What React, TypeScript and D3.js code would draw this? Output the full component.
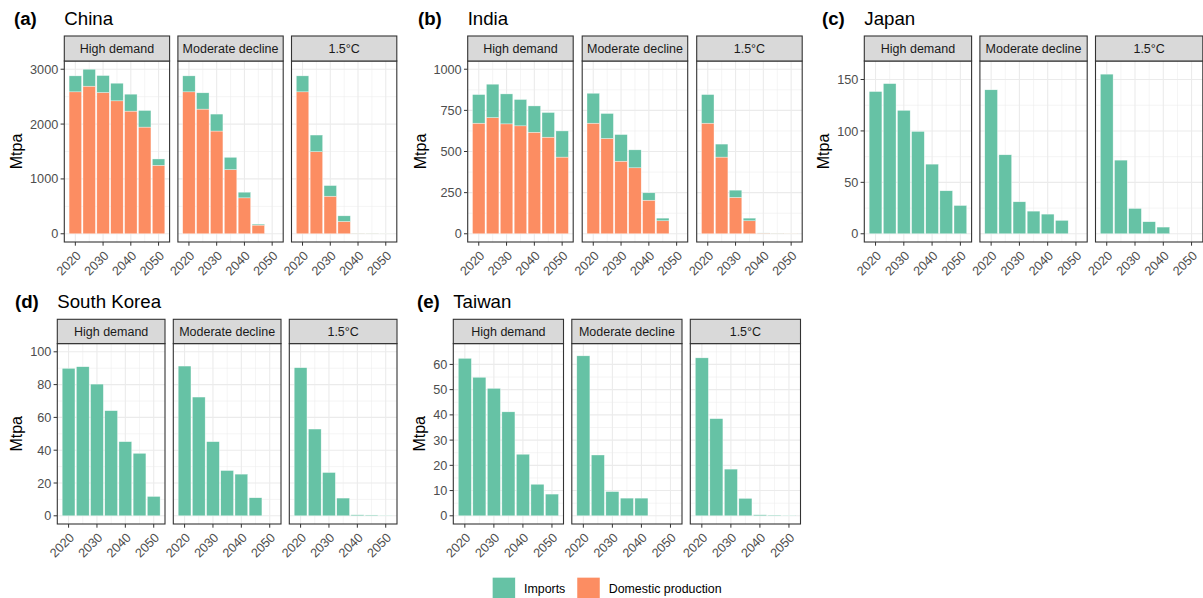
import * as d3 from "d3"

const years = [2020, 2025, 2030, 2035, 2040, 2045, 2050]
const scenarios = ["High demand", "Moderate decline", "1.5°C"]
const xTicks = [2020, 2030, 2040, 2050]
const seriesNames = ["Imports", "Domestic production"]

// rows: High demand, Moderate decline, 1.5°C
const chinaDomestic = [
  [2588, 2691, 2576, 2424, 2236, 1945, 1248],
  [2588, 2273, 1873, 1170, 655, 158, 0],
  [2588, 1497, 685, 224, 9, 7, 4],
]
const chinaImports = [
  [291, 309, 309, 321, 309, 303, 116],
  [291, 297, 309, 224, 103, 18, 0],
  [291, 303, 194, 103, 3, 3, 2],
]
const chinaTicks = [0, 1000, 2000, 3000]

const indiaDomestic = [
  [672, 706, 668, 656, 617, 587, 466],
  [672, 579, 441, 401, 204, 79, 0],
  [672, 466, 221, 79, 4, 3, 2.5],
]
const indiaImports = [
  [174, 203, 182, 160, 160, 150, 159],
  [182, 152, 162, 109, 45, 16, 0],
  [174, 79, 44, 16, 1, 1, 0.5],
]
const indiaTicks = [0, 250, 500, 750, 1000]

const japanImports = [
  [138.3, 146, 120, 99.5, 67.7, 41.8, 27.5],
  [140, 76.8, 31.1, 22, 19.1, 13, 0],
  [155.2, 71.6, 24.6, 11.7, 6.5, 0, 0],
]
const japanTicks = [0, 50, 100, 150]

const koreaImports = [
  [89.9, 90.9, 80.3, 64.1, 45.2, 38.1, 11.8],
  [91.3, 72.4, 45.2, 27.6, 25.4, 11.0, 0],
  [90.3, 52.9, 26.4, 10.8, 0.6, 0.5, 0.3],
]
const koreaTicks = [0, 20, 40, 60, 80, 100]

const taiwanImports = [
  [62.4, 54.9, 50.5, 41.2, 24.4, 12.5, 8.6],
  [63.4, 24.1, 9.6, 7.0, 7.0, 0, 0],
  [62.6, 38.5, 18.5, 6.9, 0.4, 0.3, 0.2],
]
const taiwanTicks = [0, 10, 20, 30, 40, 50, 60]

const zeros = [[0, 0, 0, 0, 0, 0, 0], [0, 0, 0, 0, 0, 0, 0], [0, 0, 0, 0, 0, 0, 0]]

const COLORS = { imports: "#66C2A5", domestic: "#FC8D62" }
const FONT = "'Liberation Sans', Arial, Helvetica, sans-serif"

const rows = [
  { stripTop: 36, stripBottom: 61, bottom: 242, titleY: 25 },
  { stripTop: 319.3, stripBottom: 343.6, bottom: 524, titleY: 307.5 },
]

const blocks = [
  { tag: "(a)", name: "China", row: 0, tagX: 14, ylabX: 16.7, left: 64.3, width: 105.3, gap: 8.3, yMax: 3000, ticks: chinaTicks, domestic: chinaDomestic, imports: chinaImports },
  { tag: "(b)", name: "India", row: 0, tagX: 418, ylabX: 420, left: 467.7, width: 105.5, gap: 9, yMax: 1000, ticks: indiaTicks, domestic: indiaDomestic, imports: indiaImports },
  { tag: "(c)", name: "Japan", row: 0, tagX: 822, ylabX: 823, left: 864.3, width: 107.3, gap: 8.3, yMax: 160, ticks: japanTicks, domestic: zeros, imports: japanImports },
  { tag: "(d)", name: "South Korea", row: 1, tagX: 15, ylabX: 16.7, left: 57.3, width: 107.7, gap: 8.3, yMax: 100, ticks: koreaTicks, domestic: zeros, imports: koreaImports },
  { tag: "(e)", name: "Taiwan", row: 1, tagX: 417, ylabX: 419, left: 453.3, width: 110.2, gap: 8.3, yMax: 65, ticks: taiwanTicks, domestic: zeros, imports: taiwanImports },
]

type BlockDef = (typeof blocks)[number]

const Block = ({ b }: { b: BlockDef }) => {
  const r = rows[b.row]
  const y = d3
    .scaleLinear()
    .domain([-0.05 * b.yMax, 1.05 * b.yMax])
    .range([r.bottom, r.stripBottom])
  const x = d3.scaleLinear().domain([2016.025, 2053.975]).range([0, b.width])

  const step = b.ticks[1] - b.ticks[0]
  const yMinor = b.ticks
    .map((t) => t - step / 2)
    .concat(b.ticks[b.ticks.length - 1] + step / 2)
    .filter((v) => v > y.domain()[0] && v < y.domain()[1])
  const xMinor = [2015, 2025, 2035, 2045, 2055].filter((v) => v > x.domain()[0] && v < x.domain()[1])
  const halfBar = 2.25

  return (
    <g>
      <text x={b.tagX} y={r.titleY} fontSize={18.67} fontWeight="bold" fill="#000">
        {b.tag}
      </text>
      <text x={b.left} y={r.titleY} fontSize={18.67} fill="#000">
        {b.name}
      </text>
      <text
        transform={`translate(${b.ylabX},${(r.stripBottom + r.bottom) / 2}) rotate(-90)`}
        textAnchor="middle"
        dy="0.35em"
        fontSize={16}
        fill="#000"
      >
        Mtpa
      </text>
      {/* y axis labels + ticks on first panel */}
      {b.ticks.map((t) => (
        <g key={t}>
          <line x1={b.left - 3.7} x2={b.left} y1={y(t)} y2={y(t)} stroke="#333333" strokeWidth={1} />
          <text x={b.left - 6} y={y(t)} dy="0.36em" textAnchor="end" fontSize={12.7} fill="#4D4D4D">
            {t}
          </text>
        </g>
      ))}
      {scenarios.map((s, si) => {
        const px = b.left + si * (b.width + b.gap)
        const dom = b.domestic[si]
        const imp = b.imports[si]
        return (
          <g key={s} transform={`translate(${px},0)`}>
            <rect x={0} y={r.stripBottom} width={b.width} height={r.bottom - r.stripBottom} fill="#fff" />
            {yMinor.map((v) => (
              <line key={"ym" + v} x1={0} x2={b.width} y1={y(v)} y2={y(v)} stroke="#EBEBEB" strokeWidth={0.55} />
            ))}
            {xMinor.map((v) => (
              <line key={"xm" + v} x1={x(v)} x2={x(v)} y1={r.stripBottom} y2={r.bottom} stroke="#EBEBEB" strokeWidth={0.55} />
            ))}
            {b.ticks.map((v) => (
              <line key={"yM" + v} x1={0} x2={b.width} y1={y(v)} y2={y(v)} stroke="#EBEBEB" strokeWidth={1.1} />
            ))}
            {xTicks.map((v) => (
              <line key={"xM" + v} x1={x(v)} x2={x(v)} y1={r.stripBottom} y2={r.bottom} stroke="#EBEBEB" strokeWidth={1.1} />
            ))}
            {years.map((yr, i) => {
              const x0 = x(yr - halfBar)
              const w = x(yr + halfBar) - x0
              return (
                <g key={yr}>
                  {dom[i] > 0 && (
                    <rect
                      x={x0}
                      y={y(dom[i])}
                      width={w}
                      height={y(0) - y(dom[i])}
                      fill={COLORS.domestic}
                      stroke="#fff"
                      strokeOpacity={0.7}
                      strokeWidth={0.5}
                    />
                  )}
                  {imp[i] > 0 && (
                    <rect
                      x={x0}
                      y={y(dom[i] + imp[i])}
                      width={w}
                      height={y(dom[i]) - y(dom[i] + imp[i])}
                      fill={COLORS.imports}
                      stroke="#fff"
                      strokeOpacity={0.7}
                      strokeWidth={0.5}
                    />
                  )}
                </g>
              )
            })}
            <rect
              x={0}
              y={r.stripBottom}
              width={b.width}
              height={r.bottom - r.stripBottom}
              fill="none"
              stroke="#333333"
              strokeWidth={1.1}
            />
            <rect
              x={0}
              y={r.stripTop}
              width={b.width}
              height={r.stripBottom - r.stripTop}
              fill="#D9D9D9"
              stroke="#333333"
              strokeWidth={1.1}
            />
            <text
              x={b.width / 2}
              y={(r.stripTop + r.stripBottom) / 2}
              dy="0.36em"
              textAnchor="middle"
              fontSize={12.5}
              fill="#1A1A1A"
            >
              {s}
            </text>
            {xTicks.map((v) => (
              <g key={"xt" + v}>
                <line x1={x(v)} x2={x(v)} y1={r.bottom} y2={r.bottom + 3.7} stroke="#333333" strokeWidth={1} />
                <text
                  transform={`translate(${x(v)},${r.bottom + 8}) rotate(-45)`}
                  textAnchor="end"
                  dy="0.71em"
                  fontSize={12.7}
                  fill="#4D4D4D"
                >
                  {v}
                </text>
              </g>
            ))}
          </g>
        )
      })}
    </g>
  )
}

const Legend = () => {
  const items = [
    { label: seriesNames[0], color: COLORS.imports, x: 492.3 },
    { label: seriesNames[1], color: COLORS.domestic, x: 577 },
  ]
  return (
    <g>
      {items.map((it) => (
        <g key={it.label}>
          <rect x={it.x} y={577.3} width={23} height={23} fill={it.color} stroke="#fff" strokeWidth={0.5} />
          <text x={it.x + 31.7} y={589} dy="0.36em" fontSize={12.4} fill="#000">
            {it.label}
          </text>
        </g>
      ))}
    </g>
  )
}

export default function App() {
  return (
    <svg
      width={1203}
      height={598}
      style={{ position: "absolute", left: 0, top: 0, background: "#fff" }}
      fontFamily={FONT}
    >
      <rect width={1203} height={598} fill="#fff" />
      {blocks.map((b) => (
        <Block key={b.name} b={b} />
      ))}
      <Legend />
    </svg>
  )
}
